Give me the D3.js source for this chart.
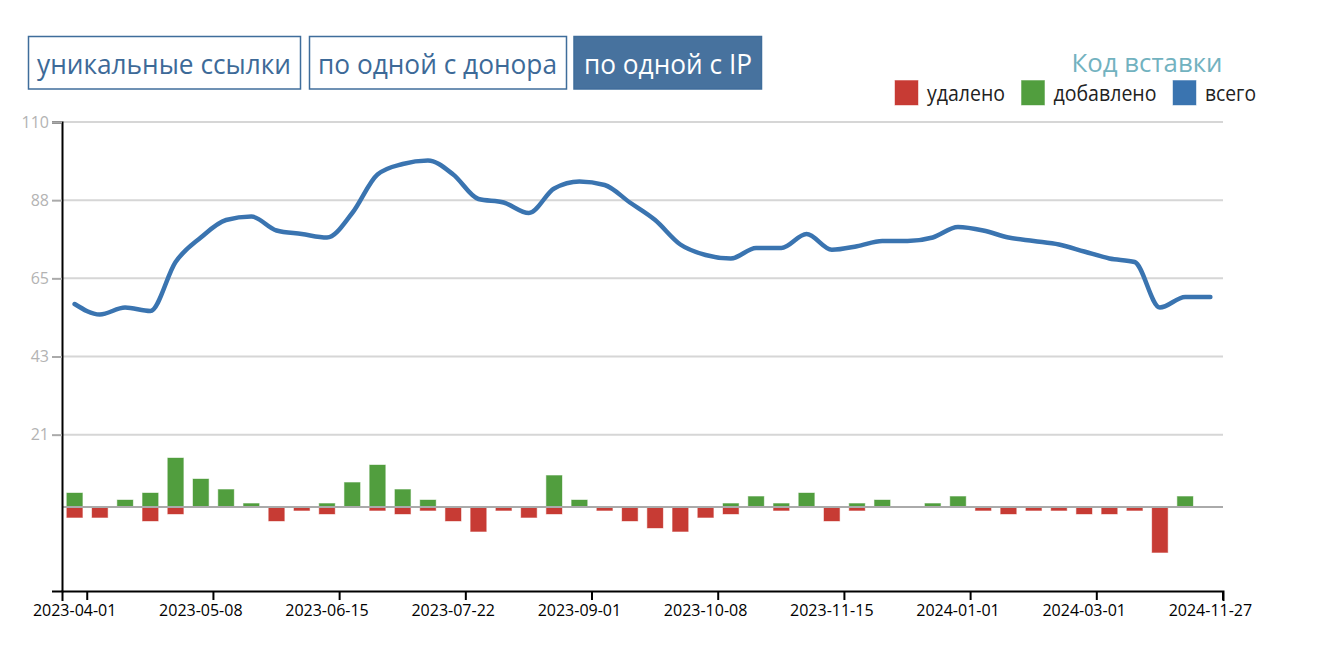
<!DOCTYPE html>
<html>
<head>
<meta charset="utf-8">
<script src="https://cdn.jsdelivr.net/npm/d3@7"></script>
<style>
  body { margin: 0; background: #fff; }
  svg text { font-family: "Open Sans", sans-serif; }
</style>
</head>
<body>
<svg id="chart" width="1340" height="670"></svg>
<script>
// one entry per period, 46 periods; labels only every 5th period
const labelIndex = [0, 5, 10, 15, 20, 25, 30, 35, 40, 45];
const labelDates = ["2023-04-01", "2023-05-08", "2023-06-15", "2023-07-22", "2023-09-01",
  "2023-10-08", "2023-11-15", "2024-01-01", "2024-03-01", "2024-11-27"];

const added = [4, 0, 2, 4, 14, 8, 5, 1, 0, 0, 1, 7, 12, 5, 2, 0, 0, 0, 0, 9, 2, 0, 0,
  0, 0, 0, 1, 3, 1, 4, 0, 1, 2, 0, 1, 3, 0, 0, 0, 0, 0, 0, 0, 0, 3, 0];
const removed = [3, 3, 0, 4, 2, 0, 0, 0, 4, 1, 2, 0, 1, 2, 1, 4, 7, 1, 3, 2, 0, 1, 4,
  6, 7, 3, 2, 0, 1, 0, 4, 1, 0, 0, 0, 0, 1, 2, 1, 1, 2, 2, 1, 13, 0, 0];
const total = [58, 55, 57, 56, 70, 77, 82, 83, 79, 78, 77, 84, 95, 98, 99, 95, 88, 87,
  84, 91, 93, 92, 87, 82, 75, 72, 71, 74, 74, 78, 73.5, 74.5, 76, 76, 77, 80, 79, 77, 76,
  75, 73, 71, 70, 57, 60, 60];

// y ticks sit at sixths of the [-24, 110] span, shown rounded
const yTicks = [110, 87.67, 65.33, 43, 20.67];

const buttons = ["уникальные ссылки", "по одной с донора", "по одной с IP"];
const legendTitle = "Код вставки";
const legendLabels = ["удалено", "добавлено", "всего"];

const COLOR_REMOVED = "#c73b34";
const COLOR_ADDED = "#519e3e";
const COLOR_TOTAL = "#3a74b0";

const svg = d3.select("#chart");

// buttons
const btnBoxes = [
  {x: 28.5, w: 272, tx: 37, tl: 254},
  {x: 309.5, w: 257, tx: 318, tl: 239},
  {x: 574, w: 187.5, tx: 584, tl: 168}
];
const btn = svg.selectAll("g.btn")
  .data(buttons)
  .enter().append("g").attr("class", "btn");
btn.append("rect")
  .attr("x", (d, i) => btnBoxes[i].x)
  .attr("y", 36.5)
  .attr("width", (d, i) => btnBoxes[i].w)
  .attr("height", 52.5)
  .attr("fill", (d, i) => i == 2 ? "#47729e" : "#fff")
  .attr("stroke", "#3f6d9b")
  .attr("stroke-width", 1.5);
btn.append("text")
  .attr("x", (d, i) => btnBoxes[i].tx)
  .attr("y", 74)
  .attr("font-size", 28)
  .attr("textLength", (d, i) => btnBoxes[i].tl)
  .attr("lengthAdjust", "spacingAndGlyphs")
  .attr("fill", (d, i) => i == 2 ? "#fff" : "#3d6a98")
  .text(d => d);

// legend
svg.append("text")
  .attr("x", 1222.5)
  .attr("y", 72)
  .attr("text-anchor", "end")
  .attr("font-size", 26)
  .attr("textLength", 151)
  .attr("lengthAdjust", "spacingAndGlyphs")
  .attr("fill", "#72b2bf")
  .text(legendTitle);

const legendPos = [{x: 895, tl: 78}, {x: 1021.5, tl: 103}, {x: 1173, tl: 51}];
const legendColors = [COLOR_REMOVED, COLOR_ADDED, COLOR_TOTAL];
const leg = svg.selectAll("g.leg")
  .data(legendLabels)
  .enter().append("g").attr("class", "leg");
leg.append("rect")
  .attr("x", (d, i) => legendPos[i].x)
  .attr("y", 80.5)
  .attr("width", 23)
  .attr("height", 24.5)
  .attr("fill", (d, i) => legendColors[i])
  .attr("stroke", (d, i) => legendColors[i])
  .attr("stroke-opacity", 0.45);
leg.append("text")
  .attr("x", (d, i) => legendPos[i].x + 32)
  .attr("y", 101)
  .attr("font-size", 21)
  .attr("textLength", (d, i) => legendPos[i].tl)
  .attr("lengthAdjust", "spacingAndGlyphs")
  .attr("fill", "#222")
  .text(d => d);

// scales
const plotLeft = 62, plotRight = 1223, plotTop = 122, plotBottom = 591;

const x = d3.scaleBand()
  .domain(d3.range(total.length))
  .range([plotLeft, plotRight]);
const step = x.step();
const barW = step * 0.62;
const cx = i => x(i) + step / 2;

const y = d3.scaleLinear()
  .domain([-24, 110])
  .range([plotBottom, plotTop]);

// gridlines
svg.append("g")
  .selectAll("line")
  .data(yTicks)
  .enter().append("line")
  .attr("x1", plotLeft).attr("x2", plotRight)
  .attr("y1", d => y(d)).attr("y2", d => y(d))
  .attr("stroke", "#d6d6d6")
  .attr("stroke-width", 2);

// bars
const bars = svg.append("g");
bars.selectAll("rect.add")
  .data(added.map((v, i) => ({i: i, v: v})).filter(d => d.v > 0))
  .enter().append("rect")
  .attr("class", "add")
  .attr("x", d => cx(d.i) - barW / 2)
  .attr("y", d => y(d.v))
  .attr("width", barW)
  .attr("height", d => y(0) - y(d.v))
  .attr("fill", COLOR_ADDED)
  .attr("stroke", COLOR_ADDED)
  .attr("stroke-opacity", 0.4);

bars.selectAll("rect.rem")
  .data(removed.map((v, i) => ({i: i, v: v})).filter(d => d.v > 0))
  .enter().append("rect")
  .attr("class", "rem")
  .attr("x", d => cx(d.i) - barW / 2)
  .attr("y", y(0))
  .attr("width", barW)
  .attr("height", d => y(-d.v) - y(0))
  .attr("fill", COLOR_REMOVED)
  .attr("stroke", COLOR_REMOVED)
  .attr("stroke-opacity", 0.4);

// zero line
svg.append("line")
  .attr("x1", plotLeft).attr("x2", plotRight)
  .attr("y1", y(0)).attr("y2", y(0))
  .attr("stroke", "#aaa")
  .attr("stroke-width", 2);

// total line
const line = d3.line()
  .x((d, i) => cx(i))
  .y(d => y(d))
  .curve(d3.curveMonotoneX);

svg.append("path")
  .datum(total)
  .attr("d", line)
  .attr("fill", "none")
  .attr("stroke", COLOR_TOTAL)
  .attr("stroke-width", 4.5)
  .attr("stroke-linejoin", "round")
  .attr("stroke-linecap", "round");

// y axis
const yAxis = svg.append("g")
  .attr("transform", `translate(${plotLeft},0)`)
  .call(d3.axisLeft(y).tickValues(yTicks).tickFormat(d3.format(".0f"))
    .tickSize(10).tickSizeOuter(10).tickPadding(3));
yAxis.select(".domain").attr("stroke", "#000").attr("stroke-width", 2);
yAxis.selectAll(".tick line").attr("stroke", "#aaa").attr("stroke-width", 2);
yAxis.selectAll(".tick text")
  .attr("fill", "#b3b3b3")
  .attr("font-size", 16)
  .attr("font-family", "'Open Sans', sans-serif");

// x axis: labels at period centres, tick marks at the period's right edge
const xAxis = svg.append("g")
  .attr("transform", `translate(0,${plotBottom})`)
  .call(d3.axisBottom(x).tickValues(labelIndex)
    .tickFormat((d, k) => labelDates[k])
    .tickSize(9).tickSizeOuter(10).tickPadding(5));
xAxis.select(".domain").attr("stroke", "#000").attr("stroke-width", 2);
xAxis.selectAll(".tick line")
  .attr("x1", step / 2).attr("x2", step / 2)
  .attr("stroke", "#000").attr("stroke-width", 2);
xAxis.selectAll(".tick text")
  .attr("fill", "#000")
  .attr("font-size", 16)
  .attr("font-family", "'Liberation Sans', Arial, sans-serif");
</script>
</body>
</html>
